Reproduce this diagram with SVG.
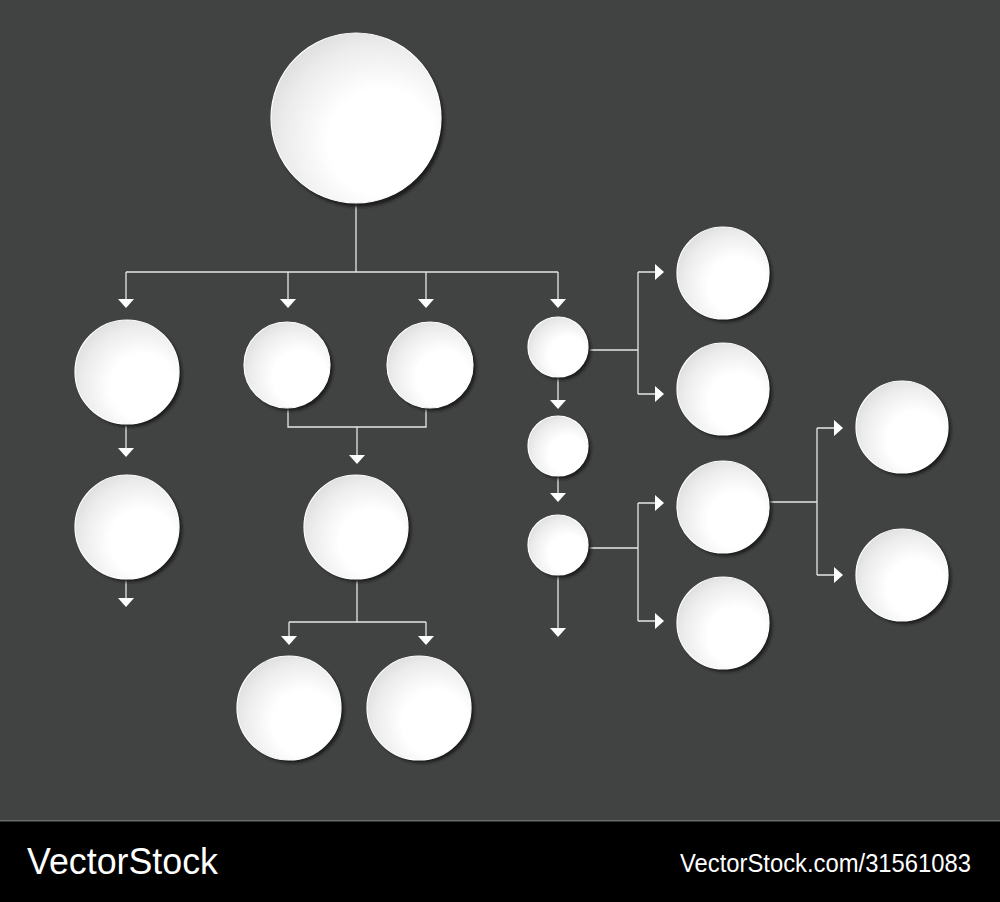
<svg xmlns="http://www.w3.org/2000/svg" width="1000" height="902" viewBox="0 0 1000 902">
<style>
.ln{stroke:#e6e6e6;stroke-width:1.3;fill:none}
.ah{fill:#ffffff}
.ft{font-family:"Liberation Sans Narrow","Liberation Sans",Arial,sans-serif;fill:#ffffff}
</style>
<defs>
<radialGradient id="g" cx="0.62" cy="0.62" r="0.7" fx="0.68" fy="0.66">
<stop offset="0" stop-color="#ffffff"/>
<stop offset="0.45" stop-color="#ffffff"/>
<stop offset="0.8" stop-color="#ececec"/>
<stop offset="1" stop-color="#dcdcdc"/>
</radialGradient>
<filter id="sh" x="-20%" y="-20%" width="140%" height="140%">
<feGaussianBlur stdDeviation="1.5"/>
</filter>
<g id="c">
<circle cx="3" cy="3" r="1" fill="#161616" filter="url(#sh)"/>
</g>
</defs>
<rect width="1000" height="902" fill="#414242"/>

<g id="connectors">
<path class="ln" d="M356,203V272M126,272H558M126,272V299M288,272V299M426,272V299M558,272V299"/>
<path class="ln" d="M126,424V448M126,579V598"/>
<path class="ln" d="M288,408V427H426V408M357,427V455"/>
<path class="ln" d="M357,579V622M289,622H426M289,622V636M426,622V636"/>
<path class="ln" d="M588,350H638M638,272V394M638,272H656M638,394H656"/>
<path class="ln" d="M558,377V400M558,476V493M558,575V628"/>
<path class="ln" d="M588,548H638M638,503V621M638,503H656M638,621H656"/>
<path class="ln" d="M769,502H817M817,428V575M817,428H835M817,575H835"/>
<g class="ah">
<polygon points="118,299 134,299 126,308"/>
<polygon points="280,299 296,299 288,308"/>
<polygon points="418,299 434,299 426,308"/>
<polygon points="550,299 566,299 558,308"/>
<polygon points="118,448 134,448 126,457"/>
<polygon points="118,598 134,598 126,607"/>
<polygon points="349,455 365,455 357,464"/>
<polygon points="281,636 297,636 289,645"/>
<polygon points="418,636 434,636 426,645"/>
<polygon points="550,400 566,400 558,409"/>
<polygon points="550,493 566,493 558,502"/>
<polygon points="550,628 566,628 558,637"/>
<polygon points="655,264 655,280 664,272"/>
<polygon points="655,386 655,402 664,394"/>
<polygon points="655,495 655,511 664,503"/>
<polygon points="655,613 655,629 664,621"/>
<polygon points="834,420 834,436 843,428"/>
<polygon points="834,567 834,583 843,575"/>
</g>
</g>

<g id="n-top"><circle cx="359" cy="122" r="85" fill="#1a1a1a" filter="url(#sh)"/><circle cx="356" cy="118" r="85" fill="url(#g)" stroke="#fff" stroke-width="1.2"/></g>
<g id="n-a1"><circle cx="130" cy="375" r="52" fill="#1a1a1a" filter="url(#sh)"/><circle cx="127" cy="372" r="52" fill="url(#g)" stroke="#fff" stroke-width="1.2"/></g>
<g id="n-b1"><circle cx="290" cy="368" r="43" fill="#1a1a1a" filter="url(#sh)"/><circle cx="287" cy="365" r="43" fill="url(#g)" stroke="#fff" stroke-width="1.2"/></g>
<g id="n-c1"><circle cx="433" cy="368" r="43" fill="#1a1a1a" filter="url(#sh)"/><circle cx="430" cy="365" r="43" fill="url(#g)" stroke="#fff" stroke-width="1.2"/></g>
<g id="n-d1"><circle cx="561" cy="350" r="30" fill="#1a1a1a" filter="url(#sh)"/><circle cx="558" cy="347" r="30" fill="url(#g)" stroke="#fff" stroke-width="1.2"/></g>
<g id="n-a2"><circle cx="130" cy="530" r="52" fill="#1a1a1a" filter="url(#sh)"/><circle cx="127" cy="527" r="52" fill="url(#g)" stroke="#fff" stroke-width="1.2"/></g>
<g id="n-mid"><circle cx="359" cy="530" r="52" fill="#1a1a1a" filter="url(#sh)"/><circle cx="356" cy="527" r="52" fill="url(#g)" stroke="#fff" stroke-width="1.2"/></g>
<g id="n-d2"><circle cx="561" cy="449" r="30" fill="#1a1a1a" filter="url(#sh)"/><circle cx="558" cy="446" r="30" fill="url(#g)" stroke="#fff" stroke-width="1.2"/></g>
<g id="n-d3"><circle cx="561" cy="548" r="30" fill="#1a1a1a" filter="url(#sh)"/><circle cx="558" cy="545" r="30" fill="url(#g)" stroke="#fff" stroke-width="1.2"/></g>
<g id="n-bl"><circle cx="292" cy="711" r="52" fill="#1a1a1a" filter="url(#sh)"/><circle cx="289" cy="708" r="52" fill="url(#g)" stroke="#fff" stroke-width="1.2"/></g>
<g id="n-br"><circle cx="422" cy="711" r="52" fill="#1a1a1a" filter="url(#sh)"/><circle cx="419" cy="708" r="52" fill="url(#g)" stroke="#fff" stroke-width="1.2"/></g>
<g id="n-r1"><circle cx="726" cy="276" r="46" fill="#1a1a1a" filter="url(#sh)"/><circle cx="723" cy="273" r="46" fill="url(#g)" stroke="#fff" stroke-width="1.2"/></g>
<g id="n-r2"><circle cx="726" cy="392" r="46" fill="#1a1a1a" filter="url(#sh)"/><circle cx="723" cy="389" r="46" fill="url(#g)" stroke="#fff" stroke-width="1.2"/></g>
<g id="n-r3"><circle cx="726" cy="510" r="46" fill="#1a1a1a" filter="url(#sh)"/><circle cx="723" cy="507" r="46" fill="url(#g)" stroke="#fff" stroke-width="1.2"/></g>
<g id="n-r4"><circle cx="726" cy="626" r="46" fill="#1a1a1a" filter="url(#sh)"/><circle cx="723" cy="623" r="46" fill="url(#g)" stroke="#fff" stroke-width="1.2"/></g>
<g id="n-f1"><circle cx="905" cy="430" r="46" fill="#1a1a1a" filter="url(#sh)"/><circle cx="902" cy="427" r="46" fill="url(#g)" stroke="#fff" stroke-width="1.2"/></g>
<g id="n-f2"><circle cx="905" cy="578" r="46" fill="#1a1a1a" filter="url(#sh)"/><circle cx="902" cy="575" r="46" fill="url(#g)" stroke="#fff" stroke-width="1.2"/></g>

<g id="footer">
<rect x="0" y="821" width="1000" height="81" fill="#000"/>
<rect x="0" y="820" width="1000" height="1.5" fill="#6a6a6a"/>
<text class="ft" x="27" y="874" font-size="36" textLength="191" lengthAdjust="spacingAndGlyphs">VectorStock</text>
<text class="ft" x="680" y="872" font-size="25" textLength="291" lengthAdjust="spacingAndGlyphs">VectorStock.com/31561083</text>
</g>
</svg>
